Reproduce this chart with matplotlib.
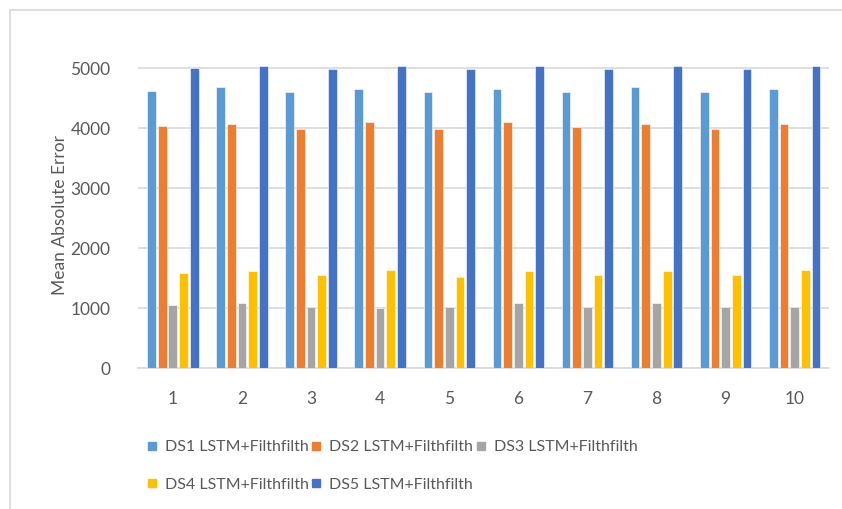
import matplotlib
matplotlib.use("Agg")
import matplotlib.pyplot as plt
from matplotlib.lines import Line2D
import numpy as np

categories = ["1", "2", "3", "4", "5", "6", "7", "8", "9", "10"]
series_names = ["DS1 LSTM+Filthfilth", "DS2 LSTM+Filthfilth", "DS3 LSTM+Filthfilth",
                "DS4 LSTM+Filthfilth", "DS5 LSTM+Filthfilth"]
ds1 = [4628, 4683, 4600, 4656, 4600, 4656, 4600, 4683, 4600, 4656]
ds2 = [4039, 4072, 3983, 4106, 3983, 4106, 4017, 4072, 3983, 4072]
ds3 = [1056, 1083, 1028, 1000, 1028, 1083, 1028, 1083, 1028, 1028]
ds4 = [1583, 1617, 1550, 1644, 1528, 1617, 1550, 1617, 1550, 1644]
ds5 = [5011, 5039, 4983, 5039, 4983, 5039, 4983, 5039, 4983, 5039]
yticks = [0, 1000, 2000, 3000, 4000, 5000]

colors = ["#5B9BD5", "#ED7D31", "#A5A5A5", "#FFC000", "#4472C4"]
text_color = "#595959"
grid_color = "#D9D9D9"

plt.rcParams['font.family'] = ['Lato', 'DejaVu Sans']

W, H = 842, 509
fig = plt.figure(figsize=(W / 100, H / 100), dpi=100)

left, right = 138.3, 829.2
bottom_px, top_px = 368.3, 62.3
ax = fig.add_axes([left / W, 1 - bottom_px / H, (right - left) / W, (bottom_px - top_px) / H])

x = np.arange(len(categories))
pitch = 0.1545
width = 0.126
all_series = [ds1, ds2, ds3, ds4, ds5]
for i, (vals, c) in enumerate(zip(all_series, colors)):
    ax.bar(x + (i - 2) * pitch, vals, width=width, color=c, edgecolor="white",
           linewidth=0.4, zorder=3)

ax.set_xlim(-0.5, len(categories) - 0.5)
ax.set_ylim(0, 5100)
ax.set_yticks(yticks)
ax.set_yticklabels([str(t) for t in yticks])
ax.set_xticks(x)
ax.set_xticklabels(categories)
ax.yaxis.grid(True, color=grid_color, linewidth=1.2, zorder=0)
ax.set_axisbelow(True)
for s in ["top", "right", "left"]:
    ax.spines[s].set_visible(False)
ax.spines["bottom"].set_color(grid_color)
ax.spines["bottom"].set_linewidth(1.2)
ax.tick_params(axis="both", length=0, colors=text_color, labelsize=12.5)
ax.tick_params(axis="y", pad=20)
ax.tick_params(axis="x", pad=16)
ax.set_ylabel("Mean Absolute Error", color=text_color, fontsize=12.5, labelpad=2)

handles = [Line2D([0], [0], marker="s", linestyle="none", markersize=6,
                  markerfacecolor=c, markeredgecolor=c) for c in colors]
order = [0, 3, 1, 4, 2]  # fill row-wise in a 3-column legend
leg = fig.legend([handles[i] for i in order], [series_names[i] for i in order],
                 ncol=3, loc="upper left",
                 bbox_to_anchor=(147 / W, 1 - 440 / H), frameon=False,
                 fontsize=11.5, handlelength=0.6, handletextpad=0.5,
                 columnspacing=0.2, labelspacing=1.45, borderaxespad=0,
                 borderpad=0)
for t in leg.get_texts():
    t.set_color(text_color)

# outer chart border (top and left visible)
fig.add_artist(Line2D([10 / W, 1.0], [1 - 10 / H, 1 - 10 / H], color=grid_color,
                      linewidth=1.2, transform=fig.transFigure))
fig.add_artist(Line2D([10 / W, 10 / W], [0, 1 - 10 / H], color=grid_color,
                      linewidth=1.2, transform=fig.transFigure))

fig.savefig("out.png", dpi=100, facecolor="white")
